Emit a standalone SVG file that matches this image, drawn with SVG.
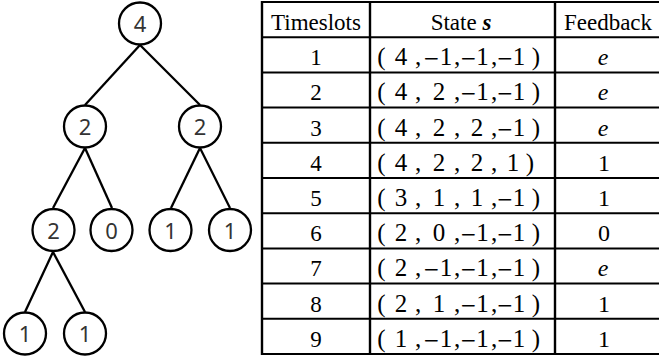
<svg xmlns="http://www.w3.org/2000/svg" width="659" height="360" viewBox="0 0 659 360">
<style>
.node circle{fill:#fff;stroke:#000;stroke-width:2.3}
.node text{font-family:"Noto Sans","DejaVu Sans",sans-serif;font-size:22px;fill:#333;text-anchor:middle}
.edges line{stroke:#000;stroke-width:2.3}
.grid line{stroke:#000;stroke-width:2}
.grid line.v{stroke-width:2.4}
.t{font-family:"Liberation Serif","Times New Roman",serif;font-size:23px;fill:#000;text-anchor:middle}
.m{font-family:"Liberation Serif","Times New Roman",serif;font-size:25px;fill:#000;text-anchor:middle}
.m .n{font-family:"DejaVu Sans",sans-serif;font-size:20px}
.f{font-family:"Liberation Serif","Times New Roman",serif;font-size:24px;fill:#000;text-anchor:middle}
.i{font-style:italic}
</style>
<rect width="659" height="360" fill="#fff"/>
<g class="edges" id="connectors">
<line x1="140" y1="45" x2="85" y2="105"/>
<line x1="140" y1="45" x2="200" y2="105"/>
<line x1="85" y1="148" x2="53" y2="208"/>
<line x1="85" y1="148" x2="112" y2="208"/>
<line x1="200" y1="148" x2="171" y2="208"/>
<line x1="200" y1="148" x2="230" y2="208"/>
<line x1="53" y1="252" x2="25" y2="312"/>
<line x1="53" y1="252" x2="85" y2="312"/>
</g>
<g class="node" id="n_root"><circle cx="140" cy="23.5" r="21"/><text x="140" y="32">4</text></g>
<g class="node" id="n_l"><circle cx="85" cy="126.5" r="21"/><text x="85" y="135">2</text></g>
<g class="node" id="n_r"><circle cx="200" cy="126.5" r="21"/><text x="200" y="135">2</text></g>
<g class="node" id="n_ll"><circle cx="53.5" cy="230" r="21"/><text x="53.5" y="238.5">2</text></g>
<g class="node" id="n_lr"><circle cx="111.5" cy="230" r="21"/><text x="111.5" y="238.5">0</text></g>
<g class="node" id="n_rl"><circle cx="170.5" cy="230" r="21"/><text x="170.5" y="238.5">1</text></g>
<g class="node" id="n_rr"><circle cx="230" cy="230" r="21"/><text x="230" y="238.5">1</text></g>
<g class="node" id="n_lll"><circle cx="25" cy="333.5" r="21"/><text x="25" y="342">1</text></g>
<g class="node" id="n_llr"><circle cx="85" cy="333.5" r="21"/><text x="85" y="342">1</text></g>
<g id="table">
<g class="grid">
<line x1="261" y1="2" x2="660" y2="2"/>
<line x1="261" y1="37.2" x2="660" y2="37.2"/>
<line x1="261" y1="72.4" x2="660" y2="72.4"/>
<line x1="261" y1="107.6" x2="660" y2="107.6"/>
<line x1="261" y1="142.8" x2="660" y2="142.8"/>
<line x1="261" y1="178" x2="660" y2="178"/>
<line x1="261" y1="213.2" x2="660" y2="213.2"/>
<line x1="261" y1="248.4" x2="660" y2="248.4"/>
<line x1="261" y1="283.6" x2="660" y2="283.6"/>
<line x1="261" y1="318.8" x2="660" y2="318.8"/>
<line x1="261" y1="354" x2="660" y2="354"/>
<line class="v" x1="262" y1="1" x2="262" y2="355"/>
<line class="v" x1="370" y1="1" x2="370" y2="355"/>
<line class="v" x1="555" y1="1" x2="555" y2="355"/>
</g>
<text class="t" x="316" y="30">Timeslots</text>
<text class="t" x="461" y="30">State <tspan font-weight="bold" font-style="italic">s</tspan></text>
<text class="t" x="608" y="30">Feedback</text>
<text class="t" x="316" y="65.2">1</text>
<text class="t" x="316" y="100.4">2</text>
<text class="t" x="316" y="135.6">3</text>
<text class="t" x="316" y="170.8">4</text>
<text class="t" x="316" y="206">5</text>
<text class="t" x="316" y="241.2">6</text>
<text class="t" x="316" y="276.4">7</text>
<text class="t" x="316" y="311.6">8</text>
<text class="t" x="316" y="346.8">9</text>
<text class="m" y="65.2"><tspan x="381.5">(</tspan><tspan x="401">4</tspan><tspan x="418">,</tspan><tspan class="n" x="431.5">−</tspan><tspan x="446">1</tspan><tspan x="457">,</tspan><tspan class="n" x="468.5">−</tspan><tspan x="482.5">1</tspan><tspan x="494">,</tspan><tspan class="n" x="505">−</tspan><tspan x="519">1</tspan><tspan x="536">)</tspan></text>
<text class="m" y="100.4"><tspan x="381.5">(</tspan><tspan x="401">4</tspan><tspan x="418">,</tspan><tspan x="439">2</tspan><tspan x="457">,</tspan><tspan class="n" x="468.5">−</tspan><tspan x="482.5">1</tspan><tspan x="494">,</tspan><tspan class="n" x="505">−</tspan><tspan x="519">1</tspan><tspan x="536">)</tspan></text>
<text class="m" y="135.6"><tspan x="381.5">(</tspan><tspan x="401">4</tspan><tspan x="418">,</tspan><tspan x="439">2</tspan><tspan x="457">,</tspan><tspan x="477">2</tspan><tspan x="494">,</tspan><tspan class="n" x="505">−</tspan><tspan x="519">1</tspan><tspan x="536">)</tspan></text>
<text class="m" y="170.8"><tspan x="381.5">(</tspan><tspan x="401">4</tspan><tspan x="418">,</tspan><tspan x="439">2</tspan><tspan x="457">,</tspan><tspan x="477">2</tspan><tspan x="494">,</tspan><tspan x="513">1</tspan><tspan x="530">)</tspan></text>
<text class="m" y="206"><tspan x="381.5">(</tspan><tspan x="401">3</tspan><tspan x="418">,</tspan><tspan x="439">1</tspan><tspan x="457">,</tspan><tspan x="477">1</tspan><tspan x="494">,</tspan><tspan class="n" x="505">−</tspan><tspan x="519">1</tspan><tspan x="536">)</tspan></text>
<text class="m" y="241.2"><tspan x="381.5">(</tspan><tspan x="401">2</tspan><tspan x="418">,</tspan><tspan x="439">0</tspan><tspan x="457">,</tspan><tspan class="n" x="468.5">−</tspan><tspan x="482.5">1</tspan><tspan x="494">,</tspan><tspan class="n" x="505">−</tspan><tspan x="519">1</tspan><tspan x="536">)</tspan></text>
<text class="m" y="276.4"><tspan x="381.5">(</tspan><tspan x="401">2</tspan><tspan x="418">,</tspan><tspan class="n" x="431.5">−</tspan><tspan x="446">1</tspan><tspan x="457">,</tspan><tspan class="n" x="468.5">−</tspan><tspan x="482.5">1</tspan><tspan x="494">,</tspan><tspan class="n" x="505">−</tspan><tspan x="519">1</tspan><tspan x="536">)</tspan></text>
<text class="m" y="311.6"><tspan x="381.5">(</tspan><tspan x="401">2</tspan><tspan x="418">,</tspan><tspan x="439">1</tspan><tspan x="457">,</tspan><tspan class="n" x="468.5">−</tspan><tspan x="482.5">1</tspan><tspan x="494">,</tspan><tspan class="n" x="505">−</tspan><tspan x="519">1</tspan><tspan x="536">)</tspan></text>
<text class="m" y="346.8"><tspan x="381.5">(</tspan><tspan x="401">1</tspan><tspan x="418">,</tspan><tspan class="n" x="431.5">−</tspan><tspan x="446">1</tspan><tspan x="457">,</tspan><tspan class="n" x="468.5">−</tspan><tspan x="482.5">1</tspan><tspan x="494">,</tspan><tspan class="n" x="505">−</tspan><tspan x="519">1</tspan><tspan x="536">)</tspan></text>
<text class="f i" x="603" y="65.2">e</text>
<text class="f i" x="603" y="100.4">e</text>
<text class="f i" x="603" y="135.6">e</text>
<text class="f" x="604" y="170.8">1</text>
<text class="f" x="604" y="206">1</text>
<text class="f" x="604" y="241.2">0</text>
<text class="f i" x="603" y="276.4">e</text>
<text class="f" x="604" y="311.6">1</text>
<text class="f" x="604" y="346.8">1</text>
</g>
</svg>
